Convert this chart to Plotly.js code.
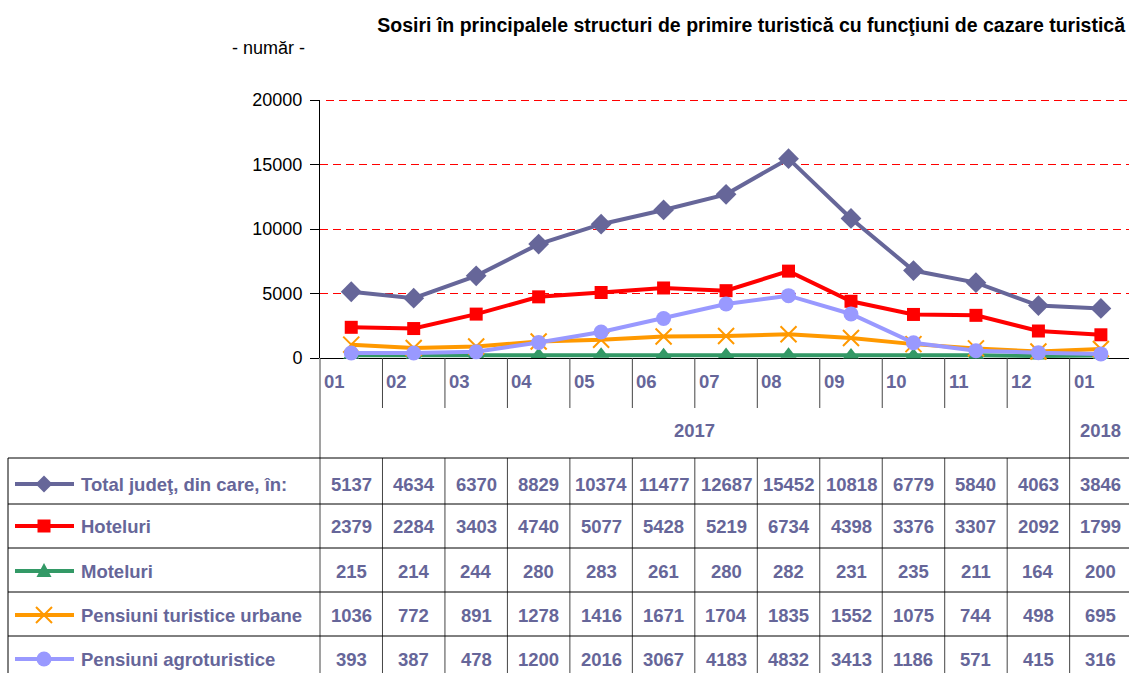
<!DOCTYPE html>
<html>
<head>
<meta charset="utf-8">
<script src="https://cdn.plot.ly/plotly-3.0.1.min.js"></script>
<style>html,body{margin:0;padding:0;background:#fff;}#chart{width:1129px;height:673px;}</style>
</head>
<body>
<div id="chart"></div>
<script>
// ---------- data ----------
const months = ['01','02','03','04','05','06','07','08','09','10','11','12','01'];
const years = ['2017','2018'];
const seriesNames = ['Total judeţ, din care, în:','Hoteluri','Moteluri','Pensiuni turistice urbane','Pensiuni agroturistice'];
const total    = [5137,4634,6370,8829,10374,11477,12687,15452,10818,6779,5840,4063,3846];
const hoteluri = [2379,2284,3403,4740,5077,5428,5219,6734,4398,3376,3307,2092,1799];
const moteluri = [215,214,244,280,283,261,280,282,231,235,211,164,200];
const urbane   = [1036,772,891,1278,1416,1671,1704,1835,1552,1075,744,498,695];
const agro     = [393,387,478,1200,2016,3067,4183,4832,3413,1186,571,415,316];
const yTicks = [0,5000,10000,15000,20000];
const titleText = 'Sosiri în principalele structuri de primire turistică cu funcţiuni de cazare turistică';
const unitText = '- număr -';

// ---------- styling ----------
const F = "'Liberation Sans', Arial, Helvetica, sans-serif";
const TXT = '#666699';
const colors = ['#666699','#ff0000','#339966','#ff9900','#9999ff'];
const symbols = ['diamond','square','triangle-up','x-thin-open','circle'];
const msizes = [16,13,14,16,15];
const allSeries = [total,hoteluri,moteluri,urbane,agro];
const TS = 18.5; // table font size

// plot geometry (pixels)
const L = 320, T = 100, W = 1129, H = 673, PW = W - L, PH = 358 - T;
const px = x => (x - L) / PW;
const py = y => (358 - y) / PH;
const xr = [-0.5, 12.45];
const colEdge = k => k / (xr[1] - xr[0]); // paper x of boundary before column k

const xs = months.map((m,i)=>i);

const traces = allSeries.map((vals, s) => ({
  type: 'scatter', mode: 'lines+markers', name: seriesNames[s],
  x: xs, y: vals,
  line: {color: colors[s], width: 4},
  marker: symbols[s] === 'x-thin-open'
    ? {symbol: symbols[s], size: msizes[s], color: colors[s], line: {color: colors[s], width: 2}}
    : {symbol: symbols[s], size: msizes[s], color: colors[s], line: {width: 0}},
  cliponaxis: false, hoverinfo: 'x+y'
}));

const shapes = [];
const annotations = [];
const lineBlack = {color: '#000', width: 1};
const lineGray = {color: '#444', width: 1};

// top gridline (at plot edge, axis omits it)
shapes.push({type:'line', xref:'paper', yref:'paper', x0: px(326), x1: 1, y0: py(100.5), y1: py(100.5), line:{color:'#ff0000', width:1, dash:'8px,5px'}, layer:'below'});

// vertical separators below axis
for (let k = 1; k <= 11; k++) {
  shapes.push({type:'line', xref:'paper', yref:'paper', x0: colEdge(k), x1: colEdge(k), y0: 0, y1: py(408), line: lineGray});
  shapes.push({type:'line', xref:'paper', yref:'paper', x0: colEdge(k), x1: colEdge(k), y0: py(458), y1: py(690), line: lineGray});
}
[0, 12].forEach(k => shapes.push({type:'line', xref:'paper', yref:'paper', x0: colEdge(k), x1: colEdge(k), y0: 0, y1: py(690), line: lineGray}));
// table left border
shapes.push({type:'line', xref:'paper', yref:'paper', x0: px(8), x1: px(8), y0: py(458), y1: py(690), line: lineBlack});
// row lines
const rowLines = [458, 504, 548, 592, 636];
rowLines.forEach(y => shapes.push({type:'line', xref:'paper', yref:'paper', x0: px(8), x1: px(1135), y0: py(y), y1: py(y), line: lineBlack}));
const rowCenters = [484, 526, 571, 615, 659];

const tfont = {family:F, size:TS, color:TXT, weight:'bold'};
// month labels
months.forEach((m, i) => annotations.push({
  xref:'x', yref:'paper', x: i - 0.5, y: py(381), xanchor:'left', yanchor:'middle', xshift: 2,
  text: m, showarrow:false, font: tfont
}));
// year labels
annotations.push({xref:'x', yref:'paper', x: 5.5, y: py(430), xanchor:'center', yanchor:'middle', text: years[0], showarrow:false, font: tfont});
annotations.push({xref:'x', yref:'paper', x: 12, y: py(430), xanchor:'center', yanchor:'middle', text: years[1], showarrow:false, font: tfont});

// table values and row labels
allSeries.forEach((vals, s) => {
  const yc = py(rowCenters[s]);
  vals.forEach((v, i) => annotations.push({
    xref:'x', yref:'paper', x: i, y: yc, xanchor:'center', yanchor:'middle',
    text: String(v), showarrow:false, font: tfont
  }));
  annotations.push({xref:'paper', yref:'paper', x: px(79), y: yc, xanchor:'left', yanchor:'middle',
    text: seriesNames[s], showarrow:false, font: tfont});
  // legend key line
  const yk = rowCenters[s];
  shapes.push({type:'line', xref:'paper', yref:'paper', x0: px(15), x1: px(74), y0: py(yk), y1: py(yk), line:{color: colors[s], width: 4}});
  const cx = 44;
  if (s === 0) {
    const r = 8.5;
    shapes.push({type:'path', xref:'paper', yref:'paper', path:`M${px(cx-r)},${py(yk)} L${px(cx)},${py(yk-r)} L${px(cx+r)},${py(yk)} L${px(cx)},${py(yk+r)} Z`, fillcolor: colors[s], line:{width:0}});
  } else if (s === 1) {
    const r = 6.5;
    shapes.push({type:'rect', xref:'paper', yref:'paper', x0: px(cx-r), x1: px(cx+r), y0: py(yk-r), y1: py(yk+r), fillcolor: colors[s], line:{width:0}});
  } else if (s === 2) {
    const r = 7.5;
    shapes.push({type:'path', xref:'paper', yref:'paper', path:`M${px(cx-r)},${py(yk+6)} L${px(cx+r)},${py(yk+6)} L${px(cx)},${py(yk-8)} Z`, fillcolor: colors[s], line:{width:0}});
  } else if (s === 3) {
    const r = 8;
    shapes.push({type:'path', xref:'paper', yref:'paper', path:`M${px(cx-r)},${py(yk-r)} L${px(cx+r)},${py(yk+r)} M${px(cx-r)},${py(yk+r)} L${px(cx+r)},${py(yk-r)}`, line:{color: colors[s], width: 2}});
  } else {
    const r = 7.5;
    shapes.push({type:'circle', xref:'paper', yref:'paper', x0: px(cx-r), x1: px(cx+r), y0: py(yk-r), y1: py(yk+r), fillcolor: colors[s], line:{width:0}});
  }
});

// unit label
annotations.push({xref:'paper', yref:'paper', x: px(268), y: py(48), xanchor:'center', yanchor:'middle', text: unitText, showarrow:false, font:{family:F, size:18, color:'#000'}});

const layout = {
  width: W, height: H,
  margin: {l: L, r: 0, t: T, b: H - 358, pad: 0},
  paper_bgcolor: '#fff', plot_bgcolor: '#fff',
  showlegend: false,
  title: {text: titleText, xref:'container', yref:'container', x: 1125/W, xanchor:'right', y: 1 - 25/H, yanchor:'middle',
          font: {family: F, size: 19.5, color: '#000', weight: 'bold'}},
  xaxis: {range: xr, showticklabels: false, showgrid: false, zeroline: false, showline: false, ticks: '', fixedrange: true},
  yaxis: {range: [0, 20000], tickvals: yTicks, ticktext: yTicks.map(String), showgrid: true, gridcolor: '#ff0000', griddash: '8px,5px', gridwidth: 1,
          zeroline: true, zerolinecolor: '#000', zerolinewidth: 1, showline: true, linecolor: '#000', linewidth: 1,
          ticks: 'outside', ticklen: 9, tickcolor: '#000', ticklabelstandoff: 4,
          tickfont: {family: F, size: 18, color: '#000'}, fixedrange: true},
  shapes: shapes,
  annotations: annotations,
  font: {family: F}
};

Plotly.newPlot('chart', traces, layout, {displayModeBar: false, staticPlot: true});
</script>
</body>
</html>
